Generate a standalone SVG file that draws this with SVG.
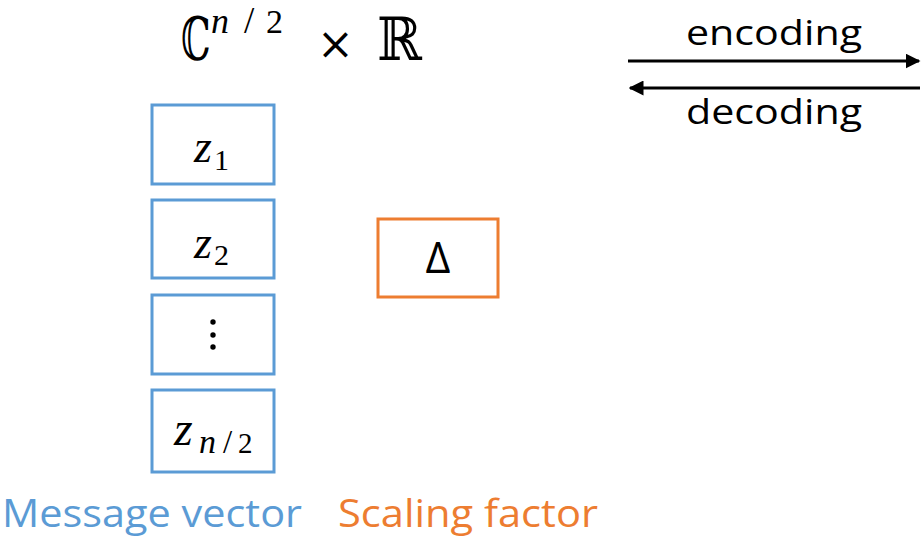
<svg xmlns="http://www.w3.org/2000/svg" width="924" height="537" viewBox="0 0 924 537">
<style>
.blue{fill:#fff;stroke:#5B9BD5;stroke-width:3}
.orange{fill:#fff;stroke:#ED7D31;stroke-width:3}
.lbl{font-family:"Open Sans","Noto Sans",sans-serif;font-size:35px;fill:#000}
.math{font-family:"DejaVu Serif","Liberation Serif",serif;fill:#000}
.num{font-family:"Liberation Serif","DejaVu Serif",serif;fill:#000}
.mi{font-family:"Liberation Serif","DejaVu Serif",serif;font-style:italic;fill:#000}
.conn{stroke:#000;stroke-width:3;fill:none}
</style>
<defs>
<marker id="ah" viewBox="0 0 10 10" refX="9" refY="5" markerWidth="5" markerHeight="5" orient="auto" markerUnits="strokeWidth">
<path d="M0,0 L10,5 L0,10 z" fill="#000"/>
</marker>
</defs>
<g id="title">
<text transform="translate(181,60) scale(0.62,1)" class="math" font-size="60">ℂ</text>
<text y="33" class="num" font-size="34"><tspan x="211" class="mi" font-size="36">n</tspan><tspan x="244" font-size="37">/</tspan><tspan x="266">2</tspan></text>
<text x="317" y="59" class="math" font-size="44">×</text>
<text transform="translate(377,60) scale(0.9,1)" class="math" font-size="60">ℝ</text>
</g>
<g id="connectors">
<line x1="628" y1="61" x2="919" y2="61" class="conn" marker-end="url(#ah)"/>
<line x1="920" y1="88" x2="630" y2="88" class="conn" marker-end="url(#ah)"/>
</g>
<g id="legend">
<text x="774" y="45" class="lbl" text-anchor="middle" textLength="176" lengthAdjust="spacingAndGlyphs">encoding</text>
<text x="774" y="124" class="lbl" text-anchor="middle" textLength="176" lengthAdjust="spacingAndGlyphs">decoding</text>
</g>
<g id="z1">
<rect x="152" y="105" width="122" height="79" class="blue"/>
<text x="194" y="162" class="mi" font-size="46">z</text>
<text x="214" y="170" class="num" font-size="30">1</text>
</g>
<g id="z2">
<rect x="152" y="200" width="122" height="78" class="blue"/>
<text x="194" y="258" class="mi" font-size="46">z</text>
<text x="214" y="265" class="num" font-size="30">2</text>
</g>
<g id="zdots">
<rect x="152" y="295" width="122" height="79" class="blue"/>
<circle cx="213" cy="322" r="2.7" fill="#000"/>
<circle cx="213" cy="335" r="2.7" fill="#000"/>
<circle cx="213" cy="347" r="2.7" fill="#000"/>
</g>
<g id="zn2">
<rect x="152" y="390" width="122" height="82" class="blue"/>
<text x="174" y="445" class="mi" font-size="48">z</text>
<text y="453" class="num" font-size="29"><tspan x="199" class="mi" font-size="34">n</tspan><tspan x="223" font-size="33">/</tspan><tspan x="238">2</tspan></text>
</g>
<g id="delta">
<rect x="378" y="219" width="120" height="78" class="orange"/>
<text x="438" y="273" font-family="Open Sans,Noto Sans,sans-serif" font-size="43" text-anchor="middle">Δ</text>
</g>
<g id="captions">
<text x="2" y="527" font-family="Open Sans,Noto Sans,sans-serif" font-size="38" fill="#5B9BD5" textLength="300" lengthAdjust="spacingAndGlyphs">Message vector</text>
<text x="338" y="527" font-family="Open Sans,Noto Sans,sans-serif" font-size="38" fill="#ED7D31" textLength="260" lengthAdjust="spacingAndGlyphs">Scaling factor</text>
</g>
</svg>
